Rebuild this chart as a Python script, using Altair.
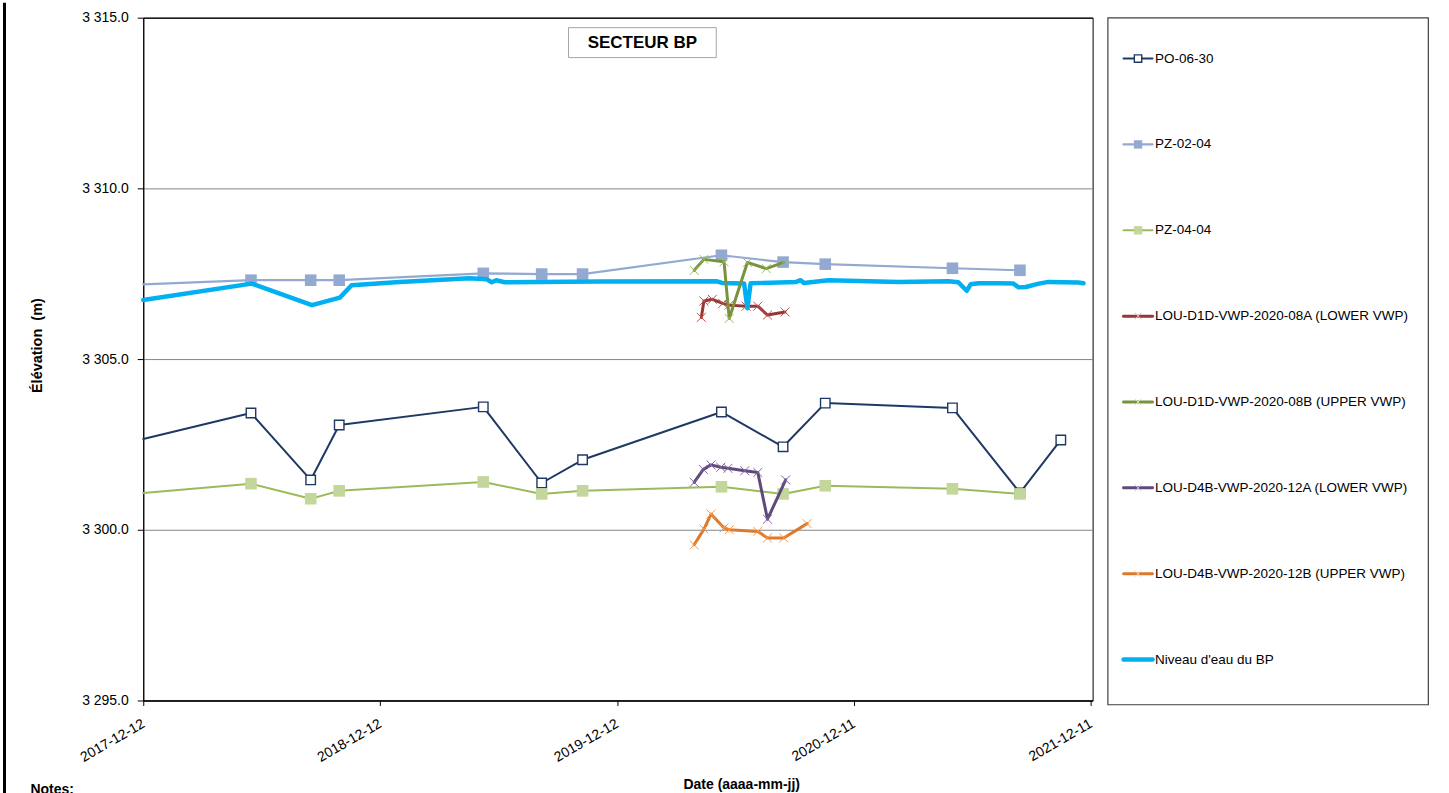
import altair as alt
import pandas as pd

# ---------------------------------------------------------------------------
# Series names (legend order)
# ---------------------------------------------------------------------------
SERIES = [
    "PO-06-30",
    "PZ-02-04",
    "PZ-04-04",
    "LOU-D1D-VWP-2020-08A (LOWER VWP)",
    "LOU-D1D-VWP-2020-08B (UPPER VWP)",
    "LOU-D4B-VWP-2020-12A (LOWER VWP)",
    "LOU-D4B-VWP-2020-12B (UPPER VWP)",
    "Niveau d'eau du BP",
]

# ---------------------------------------------------------------------------
# Data
# ---------------------------------------------------------------------------
WINDOW_START = "2017-12-12"

# survey dates of the three monitoring wells
well_dates = [
    "2018-05-27", "2018-08-27", "2018-10-10", "2019-05-20", "2019-08-18",
    "2019-10-20", "2020-05-21", "2020-08-24", "2020-10-28", "2021-05-12",
    "2021-08-24", "2021-10-26",
]
po_06_30 = [3303.42, 3301.46, 3303.07, 3303.60, 3301.37, 3302.05,
            3303.45, 3302.43, 3303.71, 3303.57, 3301.08, 3302.63]
pz_02_04 = [3307.31, 3307.31, 3307.31, 3307.51, 3307.49, 3307.49,
            3308.04, 3307.84, 3307.78, 3307.66, 3307.60]
pz_04_04 = [3301.35, 3300.91, 3301.14, 3301.40, 3301.05, 3301.14,
            3301.26, 3301.05, 3301.29, 3301.20, 3301.05]

# level of each well line where it enters the time window
po_06_30_start = 3302.66
pz_02_04_start = 3307.19
pz_04_04_start = 3301.08

vwp_08a_dates = ["2020-04-20", "2020-04-24", "2020-05-07", "2020-05-23", "2020-06-02",
                 "2020-06-28", "2020-07-16", "2020-07-31", "2020-08-27"]
vwp_08a = [3306.22, 3306.70, 3306.75, 3306.63, 3306.58, 3306.55, 3306.55, 3306.29, 3306.38]

vwp_08b_dates = ["2020-04-09", "2020-04-24", "2020-05-25", "2020-06-02", "2020-06-30",
                 "2020-07-29", "2020-08-25"]
vwp_08b = [3307.60, 3307.92, 3307.85, 3306.19, 3307.83, 3307.65, 3307.83]

vwp_12a_dates = ["2020-04-09", "2020-04-23", "2020-05-05", "2020-05-20", "2020-05-31",
                 "2020-06-26", "2020-07-16", "2020-07-31", "2020-08-28"]
vwp_12a = [3301.39, 3301.77, 3301.90, 3301.83, 3301.80, 3301.73, 3301.68, 3300.31, 3301.46]

vwp_12b_dates = ["2020-04-09", "2020-04-24", "2020-05-05", "2020-05-25", "2020-06-02",
                 "2020-07-16", "2020-07-31", "2020-08-25", "2020-09-30"]
vwp_12b = [3299.56, 3300.02, 3300.46, 3300.05, 3300.00, 3299.95, 3299.76, 3299.76, 3300.18]

bp_dates = [
    "2017-12-12", "2018-05-28", "2018-08-29", "2018-10-11", "2018-10-29", "2019-01-11",
    "2019-04-29", "2019-05-25", "2019-06-02", "2019-06-09", "2019-06-22", "2019-11-15",
    "2020-05-13", "2020-05-22", "2020-06-25", "2020-06-30", "2020-07-05", "2020-09-13",
    "2020-09-20", "2020-09-25", "2020-11-02", "2021-02-18", "2021-05-06", "2021-05-21",
    "2021-06-03", "2021-06-09", "2021-06-21", "2021-07-22", "2021-08-14", "2021-08-22",
    "2021-09-02", "2021-09-22", "2021-10-07", "2021-11-22", "2021-11-30",
]
bp_level = [
    3306.73, 3307.21, 3306.58, 3306.80, 3307.16, 3307.26,
    3307.37, 3307.34, 3307.25, 3307.31, 3307.25, 3307.27,
    3307.28, 3307.23, 3307.21, 3306.49, 3307.22, 3307.26,
    3307.31, 3307.23, 3307.31, 3307.26, 3307.28, 3307.25,
    3307.00, 3307.19, 3307.22, 3307.22, 3307.21, 3307.10,
    3307.11, 3307.21, 3307.26, 3307.24, 3307.22,
]

# ---------------------------------------------------------------------------
# Styles
# ---------------------------------------------------------------------------
X_PATH = "M-1,-1L1,1M-1,1L1,-1"
STYLE = {
    SERIES[0]: dict(color="#1F3864", width=2.0, shape="square", fill="white", mcolor="#1F3864",
                    size=90, mstroke=1.4, lsize=55, lcolor="#1F3864"),
    SERIES[1]: dict(color="#93A9D1", width=2.2, shape="square", fill="#93A9D1", mcolor="#93A9D1",
                    size=135, mstroke=0, lsize=70, lcolor="#93A9D1"),
    SERIES[2]: dict(color="#9BBB59", width=2.0, shape="square", fill="#C3D69B", mcolor="#C3D69B",
                    size=135, mstroke=0, lsize=70, lcolor="#C3D69B"),
    SERIES[3]: dict(color="#953735", width=3.0, shape=X_PATH, fill=None, mcolor="#C0504D",
                    size=80, mstroke=1.0, lsize=45, lcolor="#E6B9B8"),
    SERIES[4]: dict(color="#77933C", width=3.0, shape=X_PATH, fill=None, mcolor="#9BBB59",
                    size=80, mstroke=1.0, lsize=45, lcolor="#D7E4BD"),
    SERIES[5]: dict(color="#604A7B", width=3.0, shape=X_PATH, fill=None, mcolor="#8064A2",
                    size=80, mstroke=1.0, lsize=45, lcolor="#CCC1DA"),
    SERIES[6]: dict(color="#DB7A2F", width=3.0, shape=X_PATH, fill=None, mcolor="#F79646",
                    size=80, mstroke=1.0, lsize=45, lcolor="#FCD5B5"),
    SERIES[7]: dict(color="#00B0F0", width=4.5, shape=None, fill=None, mcolor=None,
                    size=0, mstroke=0, lsize=0, lcolor=None),
}


def series_frame(name, dates, values, start=None):
    rows = []
    if start is not None:
        rows.append({"date": WINDOW_START, "elev": start, "marker": False})
    rows += [{"date": d, "elev": v, "marker": True} for d, v in zip(dates, values)]
    df = pd.DataFrame(rows)
    df["series"] = name
    return df


frames = {
    SERIES[0]: series_frame(SERIES[0], well_dates, po_06_30, po_06_30_start),
    SERIES[1]: series_frame(SERIES[1], well_dates[:len(pz_02_04)], pz_02_04, pz_02_04_start),
    SERIES[2]: series_frame(SERIES[2], well_dates[:len(pz_04_04)], pz_04_04, pz_04_04_start),
    SERIES[3]: series_frame(SERIES[3], vwp_08a_dates, vwp_08a),
    SERIES[4]: series_frame(SERIES[4], vwp_08b_dates, vwp_08b),
    SERIES[5]: series_frame(SERIES[5], vwp_12a_dates, vwp_12a),
    SERIES[6]: series_frame(SERIES[6], vwp_12b_dates, vwp_12b),
    SERIES[7]: series_frame(SERIES[7], bp_dates, bp_level),
}
frames[SERIES[7]]["marker"] = False

# ---------------------------------------------------------------------------
# Scales / axes
# ---------------------------------------------------------------------------
PLOT_W, PLOT_H = 951, 684
FONT = "Liberation Sans"

tick_dates = [
    alt.DateTime(year=2017, month=12, date=12, utc=True),
    alt.DateTime(year=2018, month=12, date=12, utc=True),
    alt.DateTime(year=2019, month=12, date=12, utc=True),
    alt.DateTime(year=2020, month=12, date=11, utc=True),
    alt.DateTime(year=2021, month=12, date=11, utc=True),
]

x_enc = alt.X(
    "date:T",
    scale=alt.Scale(
        type="utc",
        domain=[alt.DateTime(year=2017, month=12, date=12, utc=True),
                alt.DateTime(year=2021, month=12, date=14, utc=True)],
        nice=False,
    ),
    axis=alt.Axis(
        values=tick_dates,
        labelExpr="utcFormat(datum.value, '%Y-%m-%d')",
        labelAngle=-30,
        labelAlign="right",
        labelBaseline="middle",
        labelPadding=17,
        labelFontSize=14,
        labelColor="black",
        labelOverlap=False,
        tickSize=5,
        tickColor="black",
        domainColor="black",
        grid=False,
        title="Date (aaaa-mm-jj)",
        titleFontSize=14,
        titleFontWeight="bold",
        titleX=599,
        titleY=84,
        titleBaseline="middle",
        titleAlign="center",
        titleColor="black",
    ),
)

y_enc = alt.Y(
    "elev:Q",
    scale=alt.Scale(domain=[3295, 3315], nice=False, zero=False),
    axis=alt.Axis(
        values=[3295, 3300, 3305, 3310, 3315],
        labelExpr="replace(format(datum.value, ',.1f'), ',', ' ')",
        labelFontSize=14,
        labelColor="black",
        labelPadding=9,
        tickSize=6,
        tickColor="black",
        domainColor="black",
        grid=True,
        gridColor={"condition": {"test": "datum.value === 3315 || datum.value === 3295",
                                 "value": "black"},
                   "value": "#868686"},
        gridWidth=1,
        title="Élévation\u00a0 (m)",
        titleFontSize=14.5,
        titleFontWeight="bold",
        titleAngle=270,
        titleX=-106,
        titleY=328,
        titleBaseline="middle",
        titleAlign="center",
        titleColor="black",
    ),
)

# ---------------------------------------------------------------------------
# Plot layers
# ---------------------------------------------------------------------------
draw_order = [SERIES[0], SERIES[1], SERIES[2], SERIES[3], SERIES[7],
              SERIES[4], SERIES[5], SERIES[6]]

layers = []
for name in draw_order:
    st = STYLE[name]
    df = frames[name]
    layers.append(
        alt.Chart(df).mark_line(color=st["color"], strokeWidth=st["width"],
                                strokeJoin="round", strokeCap="round")
        .encode(x=x_enc, y=y_enc, order="date:T")
    )
    if st["shape"] is not None:
        pts = df[df["marker"]]
        if st["shape"] == "square":
            mk = alt.Chart(pts).mark_point(
                shape="square", filled=True, fill=st["fill"], size=st["size"],
                stroke=st["color"], strokeWidth=st["mstroke"], opacity=1,
                fillOpacity=1,
            )
        else:
            mk = alt.Chart(pts).mark_point(
                shape=st["shape"], filled=False, stroke=st["mcolor"], size=st["size"],
                strokeWidth=st["mstroke"], opacity=1,
            )
        layers.append(mk.encode(x=x_enc, y=y_enc))

one = pd.DataFrame({"t": ["SECTEUR BP"]})
title_box = alt.Chart(one).mark_rect(fill="white", stroke="#A6A6A6", strokeWidth=1).encode(
    x=alt.value(426), x2=alt.value(574), y=alt.value(10), y2=alt.value(40)
)
title_txt = alt.Chart(one).mark_text(
    font=FONT, fontSize=17, fontWeight="bold", color="black", align="center", baseline="middle"
).encode(x=alt.value(500), y=alt.value(25.5), text="t:N")

notes = alt.Chart(pd.DataFrame({"t": ["Notes:"]})).mark_text(
    font=FONT, fontSize=14, fontWeight="bold", color="black", align="left", baseline="top"
).encode(x=alt.value(-113), y=alt.value(767), text="t:N")

frame_left = alt.Chart(one).mark_rule(color="black", strokeWidth=3).encode(
    x=alt.value(-139), y=alt.value(-15), y2=alt.value(778)
)

plot = alt.layer(*layers, title_box, title_txt, notes, frame_left).properties(
    width=PLOT_W, height=PLOT_H,
    view=alt.ViewBackground(stroke="black", strokeWidth=1),
)

# ---------------------------------------------------------------------------
# Legend panel
# ---------------------------------------------------------------------------
leg_y = alt.Y("series:N", scale=alt.Scale(type="point", domain=SERIES, range=[41, 643], padding=0),
              axis=None)
leg_layers = []
for name in SERIES:
    st = STYLE[name]
    row = pd.DataFrame({"series": [name]})
    leg_layers.append(
        alt.Chart(row).mark_rule(color=st["color"], strokeWidth=st["width"], strokeCap="round")
        .encode(x=alt.value(16), x2=alt.value(45), y=leg_y)
    )
    if st["shape"] == "square":
        leg_layers.append(
            alt.Chart(row).mark_point(shape="square", filled=True, fill=st["fill"],
                                      size=st["lsize"], stroke=st["color"],
                                      strokeWidth=st["mstroke"], opacity=1)
            .encode(x=alt.value(30.5), y=leg_y)
        )
    elif st["shape"] is not None:
        leg_layers.append(
            alt.Chart(row).mark_point(shape=st["shape"], filled=False, stroke=st["lcolor"],
                                      size=st["lsize"], strokeWidth=1, opacity=1)
            .encode(x=alt.value(30.5), y=leg_y)
        )
    leg_layers.append(
        alt.Chart(row).mark_text(font=FONT, fontSize=13.5, color="black", align="left",
                                 baseline="middle")
        .encode(x=alt.value(47.5), y=leg_y, text="series:N")
    )

legend_panel = alt.layer(*leg_layers).properties(
    width=321, height=688,
    view=alt.ViewBackground(stroke="#404040", strokeWidth=1.2),
)

chart = (
    alt.hconcat(plot, legend_panel, spacing=11)
    .properties(padding={"left": 2.5, "top": 0, "right": 20, "bottom": 0})
    .configure(font=FONT)
)

chart.save("out.html", embed_options={"renderer": "svg", "actions": False})
